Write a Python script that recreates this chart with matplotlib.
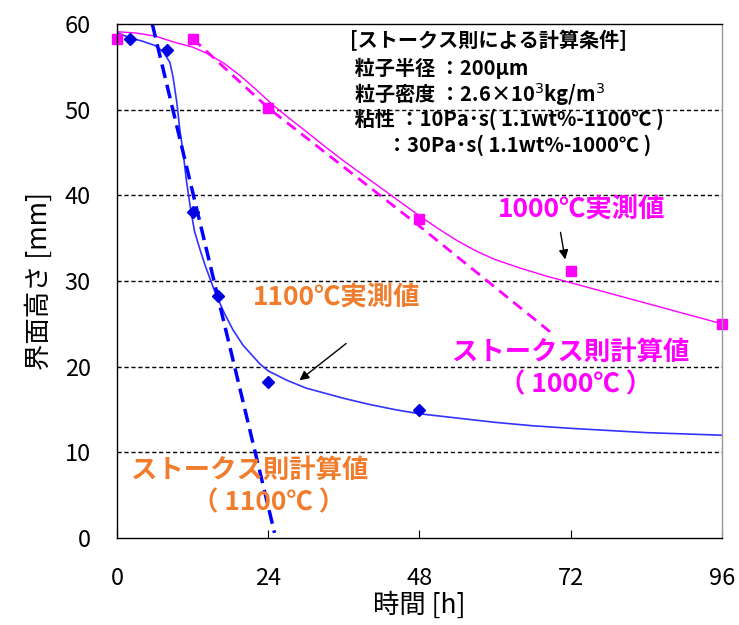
import matplotlib.pyplot as plt
import numpy as np

plt.rcParams['font.family'] = ['Noto Sans CJK JP', 'DejaVu Sans']

# measured points
t1100 = [2, 8, 12, 16, 24, 48]
h1100 = [58.2, 57.0, 38.0, 28.2, 18.2, 15.0]
t1000 = [0, 12, 24, 48, 72, 96]
h1000 = [58.3, 58.3, 50.2, 37.2, 31.2, 25.0]

# fitted curves
fit1100_t = [0, 2, 4, 6, 7.3, 8.4, 8.9, 9.5, 10, 10.5, 11, 11.7, 12.3, 13.2, 14, 15, 15.6,
             17, 18.4, 20, 22.7, 24, 27, 30, 33, 36, 40, 44, 48, 54, 60, 66, 72, 84, 96]
fit1100_h = [59.0, 58.4, 58.0, 57.5, 56.8, 55.5, 53.8, 50.8, 47.5, 45.0, 41.8, 38.3, 35.8,
             33.6, 31.8, 29.8, 28.6, 26.3, 24.3, 22.5, 20.3, 19.5, 18.4, 17.5, 16.9, 16.3,
             15.6, 15.0, 14.5, 14.0, 13.5, 13.1, 12.8, 12.3, 12.0]
fit1000_t = [0, 3, 6, 9, 12, 14.2, 17, 19.5, 22, 24.8, 27.5, 30.1, 33, 36, 39, 42, 45, 48, 51,
             54, 57, 60, 64, 68, 72, 78, 84, 90, 96]
fit1000_h = [59.1, 58.95, 58.6, 57.9, 57.3, 56.6, 55.4, 54.0, 52.4, 50.5, 48.9, 47.4, 45.7,
             44.0, 42.4, 40.8, 39.2, 37.6, 36.1, 34.7, 33.5, 32.5, 31.5, 30.6, 29.8, 28.6,
             27.4, 26.2, 25.0]

# Stokes law calculations
stokes1100_t = [5.6, 25.0]
stokes1100_h = [60, 0.6]
stokes1000_t = [12, 24, 48, 69]
stokes1000_h = [58.3, 50.2, 36.4, 23.9]

blue = '#0000FF'
mag = '#FF00FF'
orange = '#F07C2C'

fig = plt.figure(figsize=(7.39, 6.25), dpi=100)
ax = fig.add_axes([0.1583, 0.1392, 0.8187, 0.8224])

ax.plot(fit1100_t, fit1100_h, color='#3333FF', lw=1.2)
ax.plot(fit1000_t, fit1000_h, color=mag, lw=1.0)
ax.plot(stokes1100_t, stokes1100_h, color=blue, lw=2.5, ls=(0, (4, 2)))
ax.plot(stokes1000_t, stokes1000_h, color=mag, lw=2.0, ls=(0, (4, 2.5)))
ax.plot(t1100, h1100, ls='none', marker='D', ms=6, color='#0000E0')
ax.plot(t1000, h1000, ls='none', marker='s', ms=7, color=mag, clip_on=False)

ax.set_xlim(0, 96)
ax.set_ylim(0, 60)
ax.set_xticks([0, 24, 48, 72, 96])
ax.set_yticks(range(0, 61, 10))
for y in range(10, 60, 10):
    ax.axhline(y, color='black', lw=1, ls=(0, (3, 2)), zorder=0)

ax.tick_params(axis='x', direction='in', length=6, pad=21, labelsize=17)
ax.tick_params(axis='y', direction='in', length=0, pad=19, labelsize=17)
for s in ax.spines.values():
    s.set_linewidth(1.0)
ax.spines['right'].set_color('#999999')

ax.set_xlabel('時間 [h]', fontsize=19, labelpad=1)
ax.set_ylabel('界面高さ [mm]', fontsize=19, labelpad=8)

# conditions box
cond = ['[ストークス則による計算条件]',
        ' 粒子半径 ：200μm',
        ' 粒子密度 ：2.6×10$^3$kg/m$^3$',
        ' 粘性 ：10Pa･s( 1.1wt%-1100℃ )',
        '        ：30Pa･s( 1.1wt%-1000℃ )']
ys = [41, 68, 94, 119, 145]
for txt, yp in zip(cond, ys):
    fig.text(350 / 739, 1 - yp / 625, txt, fontsize=14.5, fontweight='bold',
             va='center', ha='left', family=['Noto Sans CJK JP', 'DejaVu Sans'])

kw = dict(fontsize=19, fontweight='bold', ha='center', va='center')
ax.text(73.8, 38.3, '1000℃実測値', color=mag, **kw)
ax.annotate('', xy=(71.2, 32.2), xytext=(70.3, 36.0),
            arrowprops=dict(arrowstyle='-|>', color='black', lw=1, mutation_scale=14))
ax.text(34.9, 28.0, '1100℃実測値', color=orange, **kw)
ax.annotate('', xy=(28.6, 18.2), xytext=(36.7, 22.9),
            arrowprops=dict(arrowstyle='-|>', color='black', lw=1, mutation_scale=14))
ax.text(72.0, 21.7, 'ストークス則計算値', color=mag, **kw)
ax.text(72.7, 17.9, '（ 1000℃ ）', color=mag, **kw)
ax.text(21.1, 7.9, 'ストークス則計算値', color=orange, **kw)
ax.text(24.0, 4.1, '（ 1100℃ ）', color=orange, **kw)

fig.savefig('out.png', dpi=100)
